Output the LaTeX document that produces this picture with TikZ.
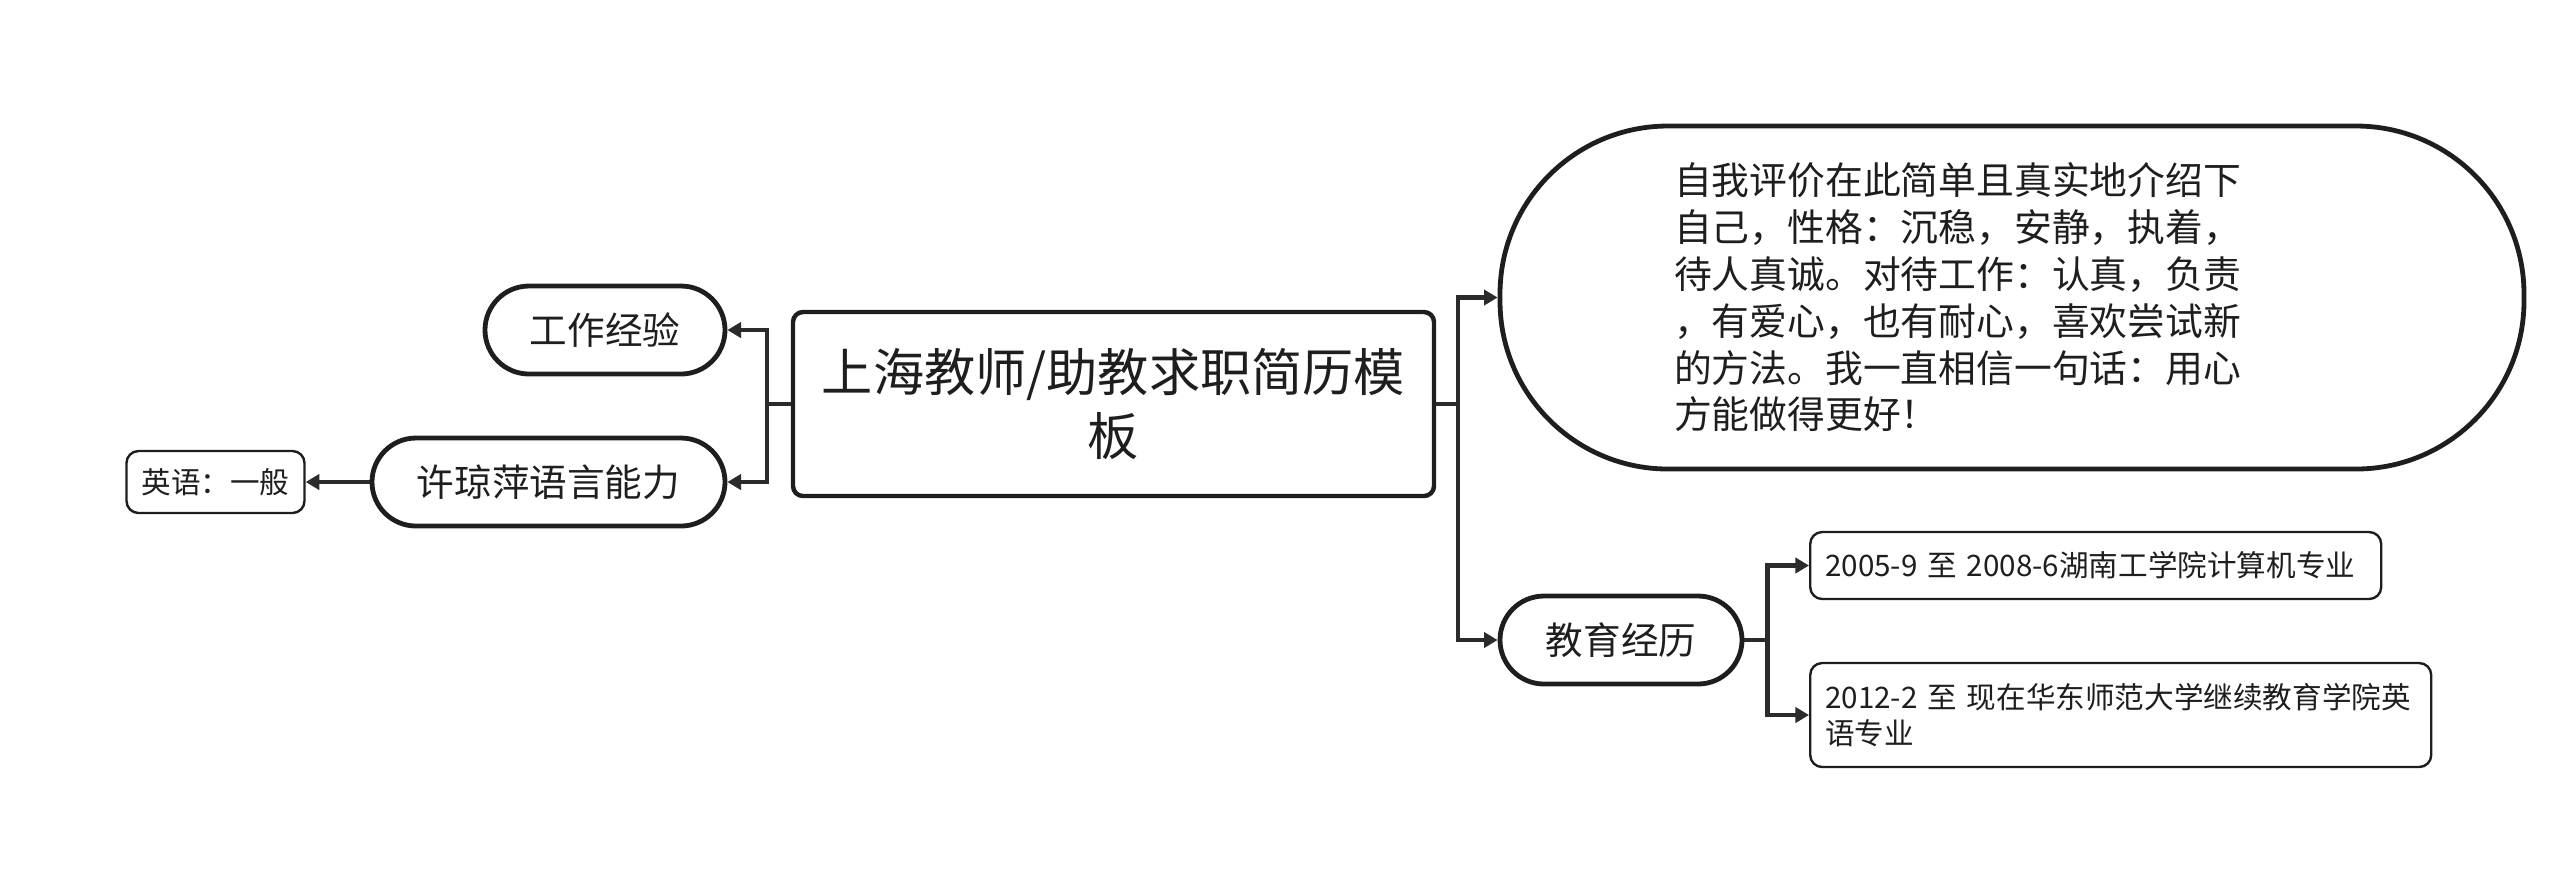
\documentclass[tikz,border=0pt]{standalone}
\usepackage{fontspec}
\setmainfont{Noto Sans CJK SC}
\usepackage{tikz}
\usetikzlibrary{arrows.meta,positioning}
\definecolor{ink}{HTML}{1E1E1E}
\definecolor{wire}{HTML}{2B2B2B}

\begin{document}
\begin{tikzpicture}[x=0.25pt,y=-0.25pt,>={Triangle[length=3.4pt,width=3.8pt]},
  topic/.style={draw=ink,line width=1.1pt,rounded corners=2.5pt,text=ink,align=center,font=\fontsize{12.8pt}{16pt}\selectfont},
  pill/.style={draw=ink,line width=1.2pt,rounded corners=11pt,text=ink,inner sep=0pt,minimum height=22pt,font=\fontsize{9.4pt}{11.5pt}\selectfont},
  leaf/.style={draw=ink,line width=.6pt,rounded corners=3pt,text=ink,align=left,inner xsep=3.75pt,font=\fontsize{7.4pt}{9pt}\selectfont},
  conn/.style={->,draw=wire,line width=1.05pt}]
\useasboundingbox (0,0) rectangle (2560,894);
\node[topic,minimum width=160.25pt,minimum height=46pt] (title) at (1113.5,404) {上海教师/助教求职简历模\\板};
\node[pill,minimum width=60pt] (work) at (605,330) {工作经验};
\node[pill,minimum width=88.25pt] (lang) at (548.5,482) {许琼萍语言能力};
\node[leaf,minimum width=44.25pt,minimum height=15.5pt,align=center] (eng) at (215.5,482) {英语：一般};
\node[pill,rounded corners=42pt,minimum width=256pt,minimum height=85.75pt,text width=169pt,align=left,font=\fontsize{9.45pt}{11.7pt}\selectfont] (self) at (2012,297.5) {自我评价在此简单且真实地介绍下\\自己，性格：沉稳，安静，执着，\\待人真诚。对待工作：认真，负责\\，有爱心，也有耐心，喜欢尝试新\\的方法。我一直相信一句话：用心\\方能做得更好！};
\node[pill,minimum width=60.5pt] (edu) at (1621,640) {教育经历};
\node[leaf,anchor=west,text width=135.25pt,minimum height=16.75pt] (e1) at (1809,565.5) {2005-9 至 2008-6湖南工学院计算机专业};
\node[leaf,anchor=west,text width=147.75pt,minimum height=26pt] (e2) at (1809,715) {2012-2 至 现在华东师范大学继续教育学院英\\语专业};
% branches
\draw[conn] (title.west) -- ++(-24,0) |- (work.east);
\draw[conn] (title.west) -- ++(-24,0) |- (lang.east);
\draw[conn] (title.east) -- ++(22,0) |- (self.west);
\draw[conn] (title.east) -- ++(22,0) |- (edu.west);
\draw[conn] (lang.west) -- (eng.east);
\draw[conn] (edu.east) -- ++(23,0) |- (e1.west);
\draw[conn] (edu.east) -- ++(23,0) |- (e2.west);
\end{tikzpicture}
\end{document}
